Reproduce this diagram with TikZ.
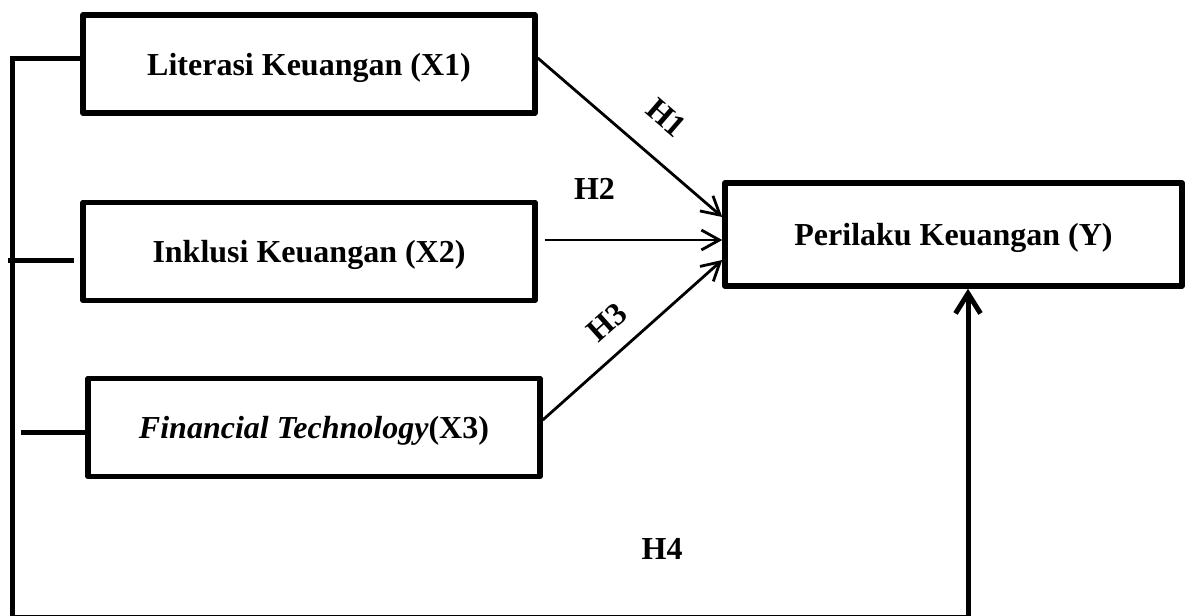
\documentclass[tikz,border=0pt]{standalone}
\usepackage{fontspec}
\setmainfont{Liberation Serif}
\usetikzlibrary{arrows.meta}
\tikzset{
	box/.style={draw, line width=2.75pt, line join=round, minimum width=226pt, minimum height=49pt, inner sep=0pt, text depth=0pt, font=\fontsize{16}{19}\selectfont\bfseries},
	hyp/.style={line width=1.4pt, -{Straight Barb[length=9pt,width=10pt]}},
	link/.style={line width=2.5pt},
	lbl/.style={font=\fontsize{16}{19}\selectfont\bfseries, inner sep=0pt}}

\begin{document}
\begin{tikzpicture}[x=0.5pt,y=-0.5pt]
		\useasboundingbox (0,0) rectangle (1190,616);
		\node[box] (x1) at (309,64) {Literasi Keuangan (X1)};
		\node[box] (x2) at (309,251.5) {Inklusi Keuangan (X2)};
		\node[box] (x3) at (314,427.5) {\textit{Financial Technology}(X3)};
		\node[box, minimum width=228.5pt, minimum height=51.5pt] (y) at (953.5,234.5) {Perilaku Keuangan (Y)};
		
		\coordinate (lt) at (12,58);
		\coordinate (lb) at (12,617);
		\coordinate (rb) at (968,617);
		\coordinate (s2) at (8,260);
		\coordinate (s3) at (21,432);
		
		\draw
		([yshift=3pt]x1.east) edge[hyp] node[lbl, sloped, pos=0.56, above=13.5pt] {H1} ([yshift=8.75pt]y.west)
		([xshift=3.5pt,yshift=5.75pt]x2.east) edge[hyp] node[lbl, pos=0.28, above=19.5pt] {H2} ([yshift=-2.75pt]y.west)
		([yshift=3.75pt]x3.east) edge[hyp] node[lbl, sloped, pos=0.47, above=9pt] {H3} ([yshift=-12.75pt]y.west)
		;
		
		\draw[link] (s2) -- ([xshift=-3pt]x2.west |- s2);
		\draw[link] (s3) -- (x3.west |- s3);
		\draw[link, -{Straight Barb[length=10pt,width=12.5pt]}] ([yshift=3pt]x1.west) -- (lt) -- (lb) -- node[lbl, pos=0.68, above=27.5pt] {H4} (rb) -- (rb |- y.south);
	\end{tikzpicture}
\end{document}
